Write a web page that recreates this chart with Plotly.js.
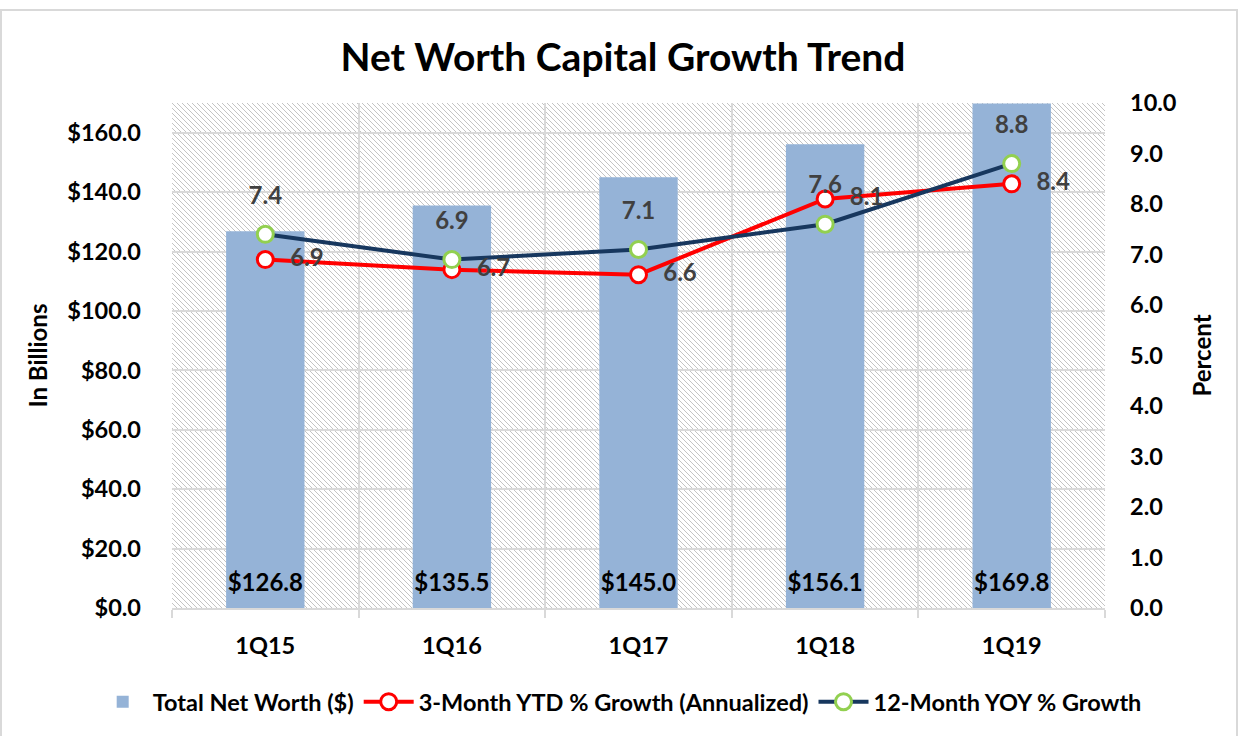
<!DOCTYPE html>
<html><head><meta charset="utf-8">
<script src="https://cdn.plot.ly/plotly-3.0.1.min.js"></script>
<style>
html,body{margin:0;padding:0;background:#fff;}
#frame{position:absolute;left:0;top:9px;width:1238px;height:730px;border:2px solid #d9d9d9;border-bottom:none;box-sizing:border-box;}
#chart{position:absolute;left:0;top:0;width:1246px;height:736px;}
</style></head>
<body><div id="frame"></div><div id="chart"></div>
<script>
const quarters = ['1Q15','1Q16','1Q17','1Q18','1Q19'];
const netWorth = [126.8, 135.5, 145.0, 156.1, 169.8];
const growth3M = [6.9, 6.7, 6.6, 8.1, 8.4];
const growth12M = [7.4, 6.9, 7.1, 7.6, 8.8];
const leftTicks = [0,20,40,60,80,100,120,140,160];
const rightTicks = [0,1,2,3,4,5,6,7,8,9,10];

const FONT = 'Lato, "Open Sans", sans-serif';
const W = 933, H = 505;
const svg = `<svg xmlns="http://www.w3.org/2000/svg" width="${W}" height="${H}"><defs><pattern id="p" width="5" height="5" patternUnits="userSpaceOnUse"><path d="M-1,-1 L6,6 M-1,4 L1,6 M4,-1 L6,1" stroke="#c4c4c4" stroke-width="1"/></pattern></defs><rect width="100%" height="100%" fill="#ffffff"/><rect width="100%" height="100%" fill="url(#p)"/></svg>`;

const labelFont = {family: FONT, size: 24, color: '#404040', weight: 'bold'};
const clear = {size: 38, color: 'rgba(0,0,0,0)', line: {width: 0}};

const traces = [
  {
    type: 'bar', name: 'Total Net Worth ($)', x: quarters, y: netWorth,
    marker: {color: '#95b3d7'}, width: 0.42, hoverinfo: 'skip'
  },
  {
    type: 'scatter', mode: 'lines+markers', name: '3-Month YTD % Growth (Annualized)',
    x: quarters, y: growth3M, yaxis: 'y2',
    line: {color: '#ff0000', width: 4},
    marker: {size: 16, color: '#ffffff', line: {color: '#ff0000', width: 3}},
    hoverinfo: 'skip', cliponaxis: false
  },
  {
    type: 'scatter', mode: 'lines+markers', name: '12-Month YOY % Growth',
    x: quarters, y: growth12M, yaxis: 'y2',
    line: {color: '#17375e', width: 4},
    marker: {size: 16, color: '#ffffff', line: {color: '#92d050', width: 3}},
    hoverinfo: 'skip', cliponaxis: false
  },
  {
    type: 'scatter', mode: 'markers+text', showlegend: false, x: quarters, y: netWorth.map(() => 0),
    marker: {size: 16, color: 'rgba(0,0,0,0)', line: {width: 0}},
    text: netWorth.map(v => '$' + v.toFixed(1)), textposition: 'top center',
    textfont: {family: FONT, size: 24, color: '#000', weight: 'bold'}, hoverinfo: 'skip', cliponaxis: false
  },
  {
    type: 'scatter', mode: 'markers+text', showlegend: false, x: quarters, y: growth3M, yaxis: 'y2',
    marker: clear, text: growth3M.map(v => v.toFixed(1)), textposition: 'middle right',
    textfont: labelFont, hoverinfo: 'skip', cliponaxis: false
  },
  {
    type: 'scatter', mode: 'markers+text', showlegend: false, x: quarters, y: growth12M, yaxis: 'y2',
    marker: clear, text: growth12M.map(v => v.toFixed(1)), textposition: 'top center',
    textfont: labelFont, hoverinfo: 'skip', cliponaxis: false
  }
];

const tickFont = {family: FONT, size: 23.5, color: '#000', weight: 'bold'};

const layout = {
  width: 1246, height: 736,
  margin: {l: 172, r: 141, t: 103, b: 128},
  paper_bgcolor: 'rgba(0,0,0,0)', plot_bgcolor: 'rgba(0,0,0,0)',
  font: {family: FONT, size: 20, color: '#000'},
  title: {text: '<b>Net Worth Capital Growth Trend</b>', font: {family: FONT, size: 39, color: '#000'},
    x: 0.5, xref: 'container', xanchor: 'center', y: 1 - 57/736, yref: 'container', yanchor: 'middle'},
  showlegend: true,
  legend: {orientation: 'h', x: -0.085, xanchor: 'left', y: -0.186, yanchor: 'middle',
    font: {family: FONT, size: 23.5, color: '#000', weight: 'bold'}, itemwidth: 50, traceorder: 'normal'},
  xaxis: {
    type: 'category', tickson: 'boundaries', ticks: 'outside', ticklen: 8, tickcolor: '#d9d9d9', tickwidth: 2,
    showgrid: true, gridcolor: '#d9d9d9', gridwidth: 2,
    showline: true, linecolor: '#d9d9d9', linewidth: 2,
    tickfont: tickFont, ticklabelstandoff: 16, fixedrange: true
  },
  yaxis: {
    range: [0, 170], tickvals: leftTicks, ticktext: leftTicks.map(v => '$' + v.toFixed(1)),
    showgrid: true, gridcolor: '#d9d9d9', gridwidth: 2, zeroline: false, showline: false, ticks: '',
    tickfont: tickFont, ticklabelstandoff: 30,
    title: {text: 'In Billions', font: {family: FONT, size: 24, color: '#000', weight: 'bold'}, standoff: 12},
    automargin: false, fixedrange: true
  },
  yaxis2: {
    overlaying: 'y', side: 'right', range: [0, 10], tickvals: rightTicks, ticktext: rightTicks.map(v => v.toFixed(1)),
    showgrid: false, zeroline: false, showline: false, ticks: '',
    tickfont: tickFont, ticklabelstandoff: 24,
    title: {text: 'Percent', font: {family: FONT, size: 24, color: '#000', weight: 'bold'}, standoff: 18},
    automargin: false, fixedrange: true
  },
  images: [{
    source: 'data:image/svg+xml;utf8,' + encodeURIComponent(svg),
    xref: 'paper', yref: 'paper', x: 0, y: 1, sizex: 1, sizey: 1,
    xanchor: 'left', yanchor: 'top', sizing: 'stretch', layer: 'below'
  }]
};

Plotly.newPlot('chart', traces, layout, {displayModeBar: false, staticPlot: true});
</script>
</body></html>
